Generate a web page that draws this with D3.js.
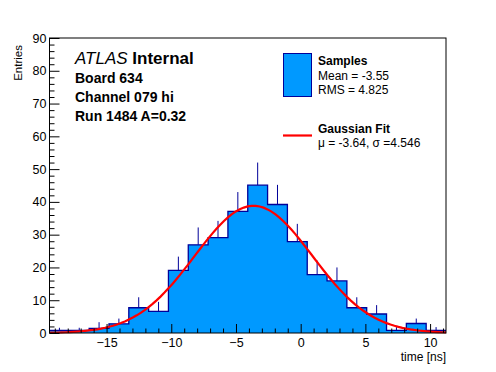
<!DOCTYPE html>
<html>
<head>
<meta charset="utf-8">
<script src="https://cdn.jsdelivr.net/npm/d3@7"></script>
<style>
  body { margin: 0; background: #fff; }
  svg { display: block; font-family: 'Liberation Sans', Arial, Helvetica, sans-serif; }
</style>
</head>
<body>
<div id="chart"></div>
<script>
// histogram binning (time in ns)
const binStart = -19.41;
const binWidth = 1.532;
const counts    = [0.8, 0.8, 1.4, 2.8, 7.7, 6.6, 19.1, 26.9, 29.1, 37.1, 45.1, 39.2, 27.9, 17.8, 15.9, 7.7, 5.8, 0.8, 2.9, 0.8];
const errorTops = [1.6, 1.6, 3.3, 4.4, 10.9, 9.5, 23.3, 32.2, 34.2, 43.0, 52.0, 45.2, 33.3, 22.1, 20.0, 10.9, 8.5, 1.8, 4.4, 1.8];

// gaussian fit parameters
const fitAmplitude = 38.8;
const fitMean = -3.64;
const fitSigma = 4.546;

const xTickValues = [-15, -10, -5, 0, 5, 10];
const yTickValues = [0, 10, 20, 30, 40, 50, 60, 70, 80, 90];

const headerLines = ['Board 634', 'Channel 079 hi', 'Run 1484 A=0.32'];

const width = 496, height = 372;
const margin = {top: 38, right: 50, bottom: 39, left: 49.5};

const fillColor = '#0099ff';
const lineColor = '#000099';

const svg = d3.select('#chart').append('svg')
  .attr('width', width)
  .attr('height', height);

const xMax = binStart + binWidth * counts.length;
const x = d3.scaleLinear()
  .domain([binStart, xMax])
  .range([margin.left, width - margin.right]);

const y = d3.scaleLinear()
  .domain([0, 90])
  .range([height - margin.bottom, margin.top]);

const bins = counts.map((v, i) => ({x0: binStart + i * binWidth, v: v, top: errorTops[i]}));
const stepPoints = bins.map(b => [b.x0, b.v]).concat([[xMax, counts[counts.length - 1]]]);

// error bars (upper half shows above the bars)
svg.append('g')
  .selectAll('line')
  .data(bins)
  .enter().append('line')
  .attr('x1', d => x(d.x0 + binWidth / 2))
  .attr('x2', d => x(d.x0 + binWidth / 2))
  .attr('y1', d => y(d.v))
  .attr('y2', d => y(d.top))
  .attr('stroke', lineColor)
  .attr('stroke-width', 1);

svg.append('path')
  .datum(stepPoints)
  .attr('fill', fillColor)
  .attr('d', d3.area()
    .curve(d3.curveStepAfter)
    .x(d => x(d[0]))
    .y0(y(0))
    .y1(d => y(d[1])));

svg.append('path')
  .datum(stepPoints)
  .attr('fill', 'none')
  .attr('stroke', lineColor)
  .attr('stroke-width', 1.3)
  .attr('d', d3.line()
    .curve(d3.curveStepAfter)
    .x(d => x(d[0]))
    .y(d => y(d[1])));

// fit curve
const fitX = d3.range(101).map(i => binStart + (xMax - binStart) * i / 100);
svg.append('path')
  .datum(fitX)
  .attr('fill', 'none')
  .attr('stroke', '#ff0000')
  .attr('stroke-width', 2.2)
  .attr('d', d3.line()
    .x(d => x(d))
    .y(d => y(fitAmplitude * Math.exp(-0.5 * Math.pow((d - fitMean) / fitSigma, 2)))));

// axes
const xMinor = d3.range(-19, 12).filter(v => !xTickValues.includes(v));
const yMinor = d3.range(0, 91, 2).filter(v => !yTickValues.includes(v));

svg.append('g')
  .attr('transform', `translate(0,${y(0)})`)
  .call(d3.axisBottom(x).tickValues(xTickValues).tickSize(-9).tickPadding(5));
svg.append('g')
  .attr('transform', `translate(0,${y(0)})`)
  .call(d3.axisBottom(x).tickValues(xMinor).tickSize(-4.5).tickFormat(''));

svg.append('g')
  .attr('transform', `translate(${x(binStart)},0)`)
  .call(d3.axisLeft(y).tickValues(yTickValues).tickSize(-10).tickPadding(3));
svg.append('g')
  .attr('transform', `translate(${x(binStart)},0)`)
  .call(d3.axisLeft(y).tickValues(yMinor).tickSize(-5).tickFormat(''));

svg.selectAll('.domain').remove();
svg.selectAll('.tick line').attr('stroke', '#000');
svg.selectAll('.tick text')
  .attr('fill', '#000')
  .style('font-size', '12.5px');

svg.append('rect')
  .attr('x', x(binStart))
  .attr('y', y(90))
  .attr('width', x(xMax) - x(binStart))
  .attr('height', y(0) - y(90))
  .attr('fill', 'none')
  .attr('stroke', '#000')
  .attr('stroke-width', 1);

svg.append('text')
  .attr('transform', `translate(22,45) rotate(-90)`)
  .attr('text-anchor', 'end')
  .style('font-size', '11.5px')
  .text('Entries');

svg.append('text')
  .attr('x', x(xMax))
  .attr('y', 361)
  .attr('text-anchor', 'end')
  .style('font-size', '12px')
  .text('time [ns]');

// labels top left
const atlas = svg.append('text')
  .attr('x', 75)
  .attr('y', 64)
  .style('font-size', '17px');
atlas.append('tspan').style('font-style', 'italic').text('ATLAS');
atlas.append('tspan').style('font-weight', 'bold').text(' Internal');

svg.append('g')
  .selectAll('text')
  .data(headerLines)
  .enter().append('text')
  .attr('x', 75)
  .attr('y', (d, i) => 83 + i * 19)
  .style('font-size', '14px')
  .style('font-weight', 'bold')
  .text(d => d);

// legend
const legend = svg.append('g');
legend.append('rect')
  .attr('x', 283.5)
  .attr('y', 53.5)
  .attr('width', 28)
  .attr('height', 43)
  .attr('fill', fillColor)
  .attr('stroke', lineColor)
  .attr('stroke-width', 1);
legend.append('line')
  .attr('x1', 283)
  .attr('x2', 312)
  .attr('y1', 135.5)
  .attr('y2', 135.5)
  .attr('stroke', '#ff0000')
  .attr('stroke-width', 2.2);

const legendText = [
  {t: 'Samples', y: 65, bold: true},
  {t: 'Mean = -3.55', y: 80, bold: false},
  {t: 'RMS = 4.825', y: 94, bold: false},
  {t: 'Gaussian Fit', y: 133, bold: true},
  {t: 'μ = -3.64, σ =4.546', y: 147, bold: false}
];
legend.selectAll('text.entry')
  .data(legendText)
  .enter().append('text')
  .attr('class', 'entry')
  .attr('x', 318)
  .attr('y', d => d.y)
  .style('font-size', '12px')
  .style('font-weight', d => d.bold ? 'bold' : 'normal')
  .text(d => d.t);
</script>
</body>
</html>
